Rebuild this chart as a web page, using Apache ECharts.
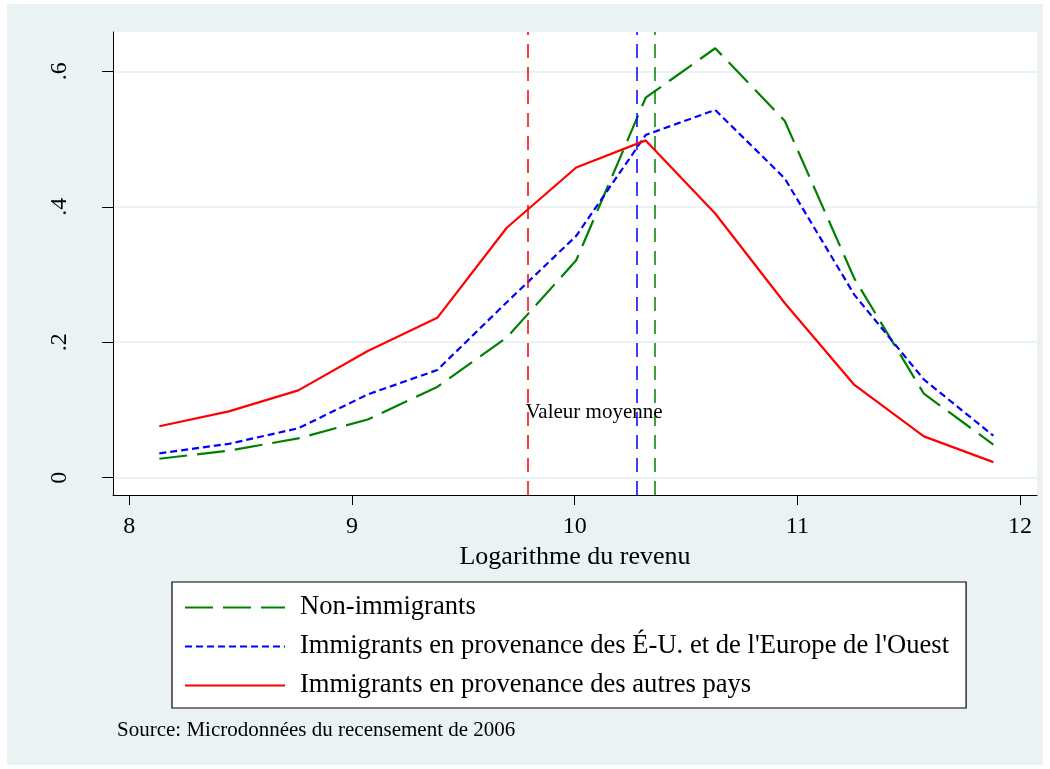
<!DOCTYPE html>
<html><head><meta charset="utf-8">
<script src="https://cdn.jsdelivr.net/npm/echarts@6/dist/echarts.min.js"></script>
<style>html,body{margin:0;padding:0;background:#fff;} #c{width:1050px;height:769px;}</style>
</head><body><div id="c"></div>
<script>
// ---- data ----
const logRevenu = [8.135, 8.447, 8.759, 9.071, 9.383, 9.695, 10.007, 10.319, 10.631, 10.943, 11.256, 11.568, 11.880];
const nonImmigrants = [0.028, 0.040, 0.058, 0.086, 0.134, 0.207, 0.321, 0.561, 0.634, 0.527, 0.294, 0.124, 0.049];
const immigrantsEUEurope = [0.036, 0.050, 0.073, 0.123, 0.159, 0.259, 0.357, 0.506, 0.543, 0.442, 0.270, 0.145, 0.062];
const immigrantsAutres = [0.076, 0.098, 0.129, 0.187, 0.236, 0.369, 0.458, 0.498, 0.390, 0.258, 0.137, 0.061, 0.023];
const meanNon = 10.356, meanEU = 10.284, meanAutres = 9.792;
const seriesNames = [
  'Non-immigrants',
  "Immigrants en provenance des É-U. et de l'Europe de l'Ouest",
  'Immigrants en provenance des autres pays'
];
const xTicks = [8, 9, 10, 11, 12];
const yTicks = [0, 0.2, 0.4, 0.6];
const yTickLabels = ['0', '.2', '.4', '.6'];
const annotationText = 'Valeur moyenne';
const annotationPos = [10.087, 0.097];
const sourceText = 'Source: Microdonnées du recensement de 2006';
const xTitle = 'Logarithme du revenu';

const FONT = '"Liberation Serif", "Times New Roman", serif';
const pts = ys => logRevenu.map((x, i) => [x, ys[i]]);
function meanLine(v, color) {
  return {
    silent: true, symbol: ['none', 'none'], label: { show: false },
    lineStyle: { color: color, type: [14, 9], width: 1.5 },
    data: [{ xAxis: v }], animation: false
  };
}

const chart = echarts.init(document.getElementById('c'), null, { renderer: 'canvas' });
chart.setOption({
  animation: false,
  backgroundColor: '#ffffff',
  textStyle: { fontFamily: FONT },
  graphic: [{
    type: 'rect', left: 7, top: 4, z: -10,
    shape: { width: 1036, height: 761 },
    style: { fill: '#eaf2f3' }, silent: true
  }],
  title: {
    text: sourceText, left: 117, top: 720, padding: 0,
    textStyle: { fontSize: 21, fontWeight: 'normal', color: '#000', fontFamily: FONT }
  },
  grid: {
    left: 113, top: 32, right: 13, bottom: 274,
    show: true, backgroundColor: '#ffffff', borderWidth: 0,
    containLabel: false, outerBoundsMode: 'none'
  },
  legend: {
    orient: 'vertical', left: 172, top: 582,
    itemWidth: 100, itemHeight: 24, itemGap: 12,
    padding: [12, 17, 9, 12],
    borderColor: '#000', borderWidth: 1.2, backgroundColor: '#ffffff',
    itemStyle: { opacity: 0 },
    textStyle: { fontSize: 26.6, color: '#000', fontFamily: FONT, padding: [0, 0, 0, 10] },
    data: seriesNames, selectedMode: false
  },
  xAxis: {
    type: 'value', min: 7.927, max: 12.076,
    axisLine: { show: true, onZero: false, lineStyle: { color: '#000', width: 1 } },
    axisTick: { show: true, inside: false, length: 10, customValues: xTicks, lineStyle: { color: '#000', width: 1 } },
    axisLabel: { customValues: xTicks, fontSize: 24, color: '#000', fontFamily: FONT, margin: 20 },
    splitLine: { show: false },
    name: xTitle, nameLocation: 'middle', nameGap: 42,
    nameTextStyle: { fontSize: 26, color: '#000', fontFamily: FONT }
  },
  yAxis: {
    type: 'value', min: -0.0255, max: 0.658,
    axisLine: { show: true, onZero: false, lineStyle: { color: '#000', width: 1 } },
    axisTick: { show: true, inside: false, length: 11, customValues: yTicks, lineStyle: { color: '#000', width: 1 } },
    axisLabel: {
      customValues: yTicks, rotate: 90, fontSize: 24, color: '#000', fontFamily: FONT, margin: 41,
      formatter: v => { const i = yTicks.findIndex(t => Math.abs(t - v) < 1e-6); return i >= 0 ? yTickLabels[i] : ''; }
    },
    splitLine: { show: true, lineStyle: { color: '#eaf2f3', width: 2 } }
  },
  series: [
    {
      name: seriesNames[0], type: 'line', data: pts(nonImmigrants), symbol: 'none', silent: true,
      lineStyle: { color: '#008000', width: 2.2, type: [28, 10] }, itemStyle: { color: '#008000' },
      markLine: meanLine(meanNon, '#008000'), z: 3
    },
    {
      name: seriesNames[1], type: 'line', data: pts(immigrantsEUEurope), symbol: 'none', silent: true,
      lineStyle: { color: '#0000ff', width: 2.2, type: [7, 4] }, itemStyle: { color: '#0000ff' },
      markLine: meanLine(meanEU, '#0000ff'), z: 4
    },
    {
      name: seriesNames[2], type: 'line', data: pts(immigrantsAutres), symbol: 'none', silent: true,
      lineStyle: { color: '#ff0000', width: 2.2, type: 'solid' }, itemStyle: { color: '#ff0000' },
      markLine: meanLine(meanAutres, '#ff0000'), z: 5,
      markPoint: {
        silent: true, symbol: 'rect', symbolSize: 0,
        label: { show: true, position: 'inside', formatter: annotationText, fontSize: 21, color: '#000', fontFamily: FONT },
        data: [{ coord: annotationPos }]
      }
    }
  ]
});
</script>
</body></html>
